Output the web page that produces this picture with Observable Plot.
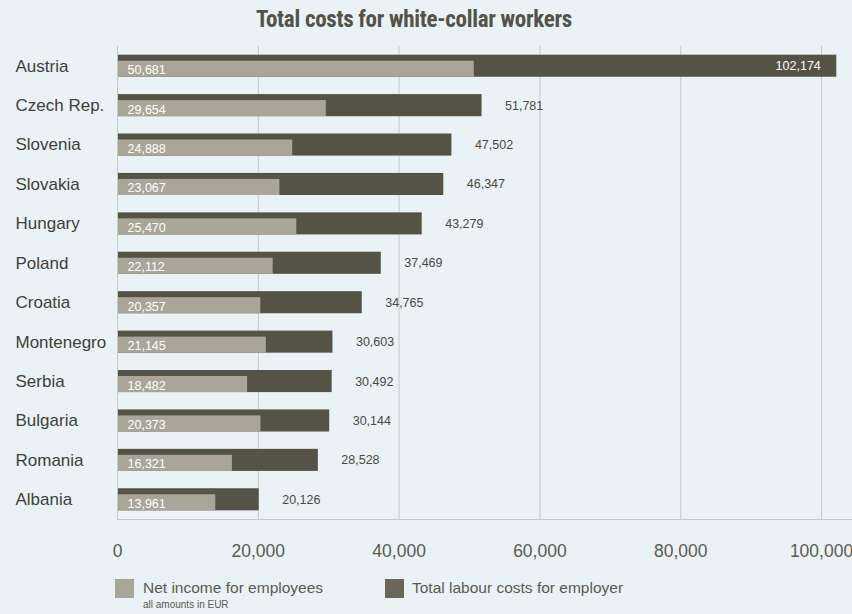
<!DOCTYPE html>
<html>
<head>
<meta charset="utf-8">
<script src="https://cdn.jsdelivr.net/npm/d3@7"></script>
<script src="https://cdn.jsdelivr.net/npm/@observablehq/plot@0.6"></script>
<style>
  html, body { margin: 0; padding: 0; background: #eaf2f5; }
  body { width: 852px; height: 614px; overflow: hidden; font-family: "Liberation Sans", Arial, sans-serif; }
  #title { height: 36px; box-sizing: border-box; padding-top: 8px; line-height: 24px; text-align: center;
    font-family: "Liberation Sans Narrow", "Roboto Condensed", "Roboto", sans-serif; font-weight: bold;
    font-size: 23px; color: #55524a; padding-right: 24px; letter-spacing: -0.3px; }
  #legend { position: relative; height: 44px; }
  .sw { position: absolute; width: 19px; height: 19px; }
  .lt { position: absolute; font-size: 15.5px; color: #5b5a52; line-height: 19px; }
  #note { position: absolute; left: 143px; top: 29px; font-size: 10px; color: #5b5a52; line-height: 12px; }
</style>
</head>
<body>
<div id="title">Total costs for white-collar workers</div>
<div id="chart"></div>
<div id="legend">
  <div class="sw" style="left:115px;top:9px;background:#a9a699"></div>
  <div class="lt" style="left:143px;top:8px">Net income for employees</div>
  <div class="sw" style="left:385px;top:9px;background:#6a6658"></div>
  <div class="lt" style="left:412px;top:8px">Total labour costs for employer</div>
  <div id="note">all amounts in EUR</div>
</div>
<script>
const countries = ["Austria","Czech Rep.","Slovenia","Slovakia","Hungary","Poland","Croatia","Montenegro","Serbia","Bulgaria","Romania","Albania"];
const netIncome = [50681,29654,24888,23067,25470,22112,20357,21145,18482,20373,16321,13961];
const totalCost = [102174,51781,47502,46347,43279,37469,34765,30603,30492,30144,28528,20126];
const xTicks = [0,20000,40000,60000,80000,100000];

const data = countries.map((c, i) => ({country: c, net: netIncome[i], total: totalCost[i]}));
const fmt = d3.format(",");
const inside = d => d.total > 90000;

const chart = Plot.plot({
  width: 852,
  height: 534,
  marginLeft: 117,
  marginRight: 31,
  marginTop: 10,
  marginBottom: 51,
  style: {background: "transparent", fontFamily: "Liberation Sans, Arial, sans-serif", overflow: "visible", display: "block"},
  x: {domain: [0, 100000], axis: null},
  y: {domain: countries, axis: null, paddingInner: 0.44, paddingOuter: 0.22, round: false},
  marks: [
    Plot.gridX(xTicks.slice(1), {stroke: "#c6c9ca", strokeOpacity: 1, strokeWidth: 1}),
    Plot.frame({anchor: "bottom", stroke: "#c6c9ca", insetRight: -31}),
    Plot.barX(data, {y: "country", x: "total", fill: "#555246"}),
    Plot.barX(data, {y: "country", x: "net", fill: "#a9a699", insetTop: 6}),
    Plot.ruleX([0], {stroke: "#c6c9ca", strokeWidth: 1}),
    Plot.text(data, {y: "country", x: 0, text: d => fmt(d.net), dx: 10, dy: 4, textAnchor: "start", fill: "white", fontSize: 12.5}),
    Plot.text(data.filter(d => !inside(d)), {y: "country", x: "total", text: d => fmt(d.total), dx: 23, textAnchor: "start", fill: "#4a4a44", fontSize: 12.5}),
    Plot.text(data.filter(inside), {y: "country", x: "total", text: d => fmt(d.total), dx: -16, textAnchor: "end", fill: "white", fontSize: 12.5}),
    Plot.text(data, {y: "country", text: "country", frameAnchor: "left", dx: -102, textAnchor: "start", fill: "#3f3f3b", fontSize: 17}),
    Plot.text(xTicks, {x: d => d, frameAnchor: "bottom", dy: 37, text: d => fmt(d), fill: "#5b5a50", fontSize: 17.5})
  ]
});
document.getElementById("chart").appendChild(chart);
</script>
</body>
</html>
